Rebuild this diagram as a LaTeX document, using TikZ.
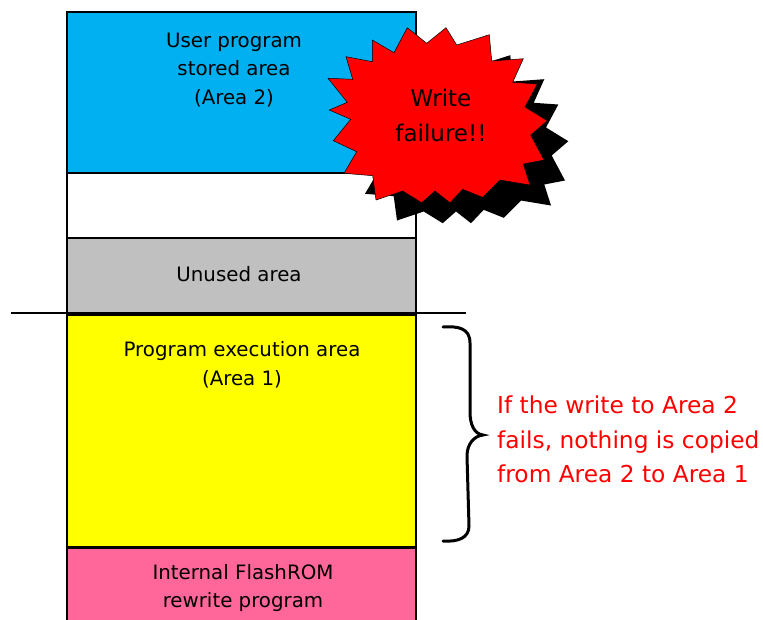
\documentclass[tikz,border=0pt]{standalone}
\usepackage{fontspec}
\setmainfont{DejaVu Sans}
\usepackage{xcolor}
\definecolor{areablue}{RGB}{0,176,240}
\definecolor{areagray}{RGB}{192,192,192}
\definecolor{areapink}{RGB}{255,102,153}
\definecolor{areayellow}{RGB}{255,255,0}
\definecolor{burstred}{RGB}{255,0,0}
\def\burstpath{(407.3,27.7)--(426.7,43.3)--(446,27.7)--(456.7,45)--(489.3,34.7)--(491.7,61)--(523.3,58.7)--(512.7,82.3)--(537.3,84)--(525,107)--(547.3,120.7)--(530.7,135)--(544,160)--(523.3,164)--(530,185)--(500,180)--(482.7,197.3)--(462.7,189.3)--(450,202.7)--(435,191)--(421.7,202.7)--(402.7,191)--(376,200)--(372.7,175.7)--(344,173.3)--(356.7,151.7)--(333.3,140.7)--(350.7,119.3)--(329.3,110)--(347.3,102.3)--(328,78.3)--(352.7,79.3)--(346,56.7)--(372.3,61.7)--(372.3,40)--(394,52.7)--cycle}

\begin{document}
\begin{tikzpicture}[x=1pt,y=-1pt,
areabox/.style={draw=black,line width=1.5pt,minimum width=349pt,inner sep=0pt},
arealabel/.style={font=\fontsize{19.8}{28.5}\selectfont,align=center,inner sep=0pt},
notelabel/.style={font=\fontsize{23.3}{34.5}\selectfont,align=left,inner sep=0pt,text=burstred}]
\useasboundingbox (0,0) rectangle (763,619);
\clip (0,0) rectangle (763,619);
%memory areas
\node[areabox,fill=areablue,minimum height=161pt] (user) at (241.5,92.5) {};
\node[areabox,fill=white,minimum height=65pt] (blank) at (241.5,205.5) {};
\node[areabox,fill=areagray,minimum height=76pt] (unused) at (241.5,276) {};
\node[areabox,fill=areayellow,minimum height=232pt] (exec) at (241.5,431) {};
\node[areabox,fill=areapink,minimum height=80pt] (rewrite) at (241.5,588) {};
%labels
\node[arealabel] (userlabel) at (234,70) {User program\\stored area\\(Area 2)};
\node[arealabel] (unusedlabel) at (239,274.5) {Unused area};
\node[arealabel] (execlabel) at (242,365) {Program execution area\\(Area 1)};
\node[arealabel] (rewritelabel) at (243,588) {Internal FlashROM\\rewrite program};
%boundary
\coordinate (lineleft) at (11,313);
\coordinate (lineright) at (466,313);
\draw[line width=1.2pt] (lineleft)--(lineright);
%burst
\fill[black,shift={(21,20.5)}] \burstpath;
\draw[fill=burstred,line width=.5pt] \burstpath;
\node[font=\fontsize{23}{35}\selectfont,align=center,inner sep=0pt] (burstlabel) at (441,115.5) {Write\\failure!!};
%brace
\coordinate (bracetop) at (443,327);
\coordinate (bracebot) at (443,541);
\coordinate (bracetip) at (483,435);
\draw[line width=3pt,line cap=round] (bracetop) .. controls (458,326) and (470,328) .. (470,343) -- (470,412) .. controls (470,424) and (474,434) .. (bracetip) .. controls (474,436) and (467,444) .. (467,456) -- (469,526) .. controls (469,538) and (458,542) .. (bracebot);
\node[notelabel,anchor=west] (note) at (497,439.5) {If the write to Area 2\\fails, nothing is copied\\from Area 2 to Area 1};
\end{tikzpicture}
\end{document}
